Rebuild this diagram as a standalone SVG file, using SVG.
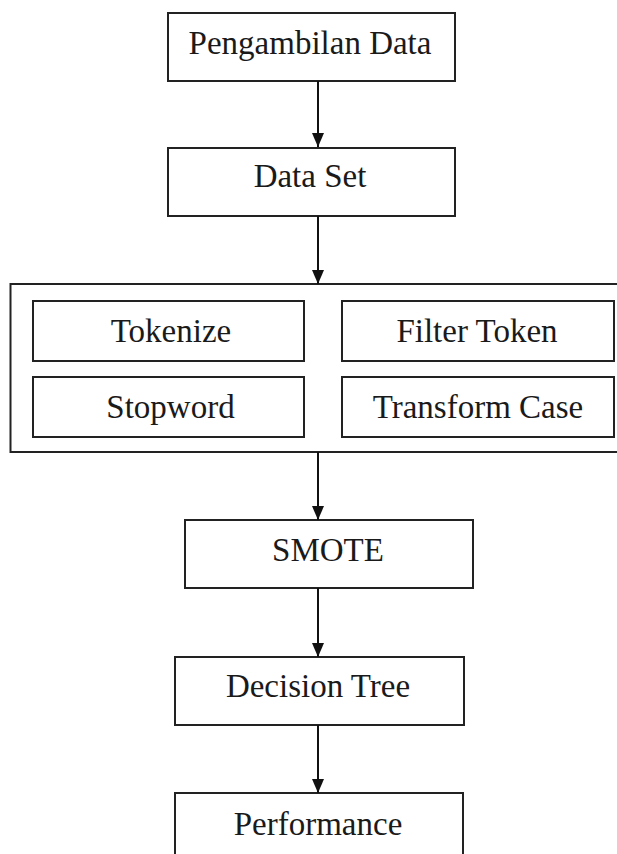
<svg xmlns="http://www.w3.org/2000/svg" width="617" height="854" viewBox="0 0 617 854">
<style>
.box{fill:#fff;stroke:#222;stroke-width:2}
.lbl{font-family:"Liberation Serif","Times New Roman",serif;font-size:33px;fill:#1a1a1a;text-anchor:middle}
.edge{stroke:#111;stroke-width:2;fill:none}
</style>
<defs>
<marker id="arr" markerUnits="userSpaceOnUse" markerWidth="14" markerHeight="12" viewBox="0 0 14 12" refX="14" refY="6" orient="auto">
<path d="M0,0 L14,6 L0,12 Z" fill="#111"/>
</marker>
</defs>
<rect width="617" height="854" fill="#fff"/>
<g id="n1"><rect class="box" x="168" y="13" width="287" height="68"/><text class="lbl" x="310" y="54">Pengambilan Data</text></g>
<g id="n2"><rect class="box" x="168" y="148" width="287" height="68"/><text class="lbl" x="310" y="187">Data Set</text></g>
<g id="preprocessing">
<rect class="box" x="10.5" y="284" width="612" height="168"/>
<g id="n3"><rect class="box" x="33" y="301" width="271" height="60"/><text class="lbl" x="171" y="342">Tokenize</text></g>
<g id="n4"><rect class="box" x="342" y="301" width="272" height="60"/><text class="lbl" x="477" y="342">Filter Token</text></g>
<g id="n5"><rect class="box" x="33" y="377" width="271" height="60"/><text class="lbl" x="170.5" y="418">Stopword</text></g>
<g id="n6"><rect class="box" x="342" y="377" width="272" height="60"/><text class="lbl" x="478" y="418">Transform Case</text></g>
</g>
<g id="n7"><rect class="box" x="185" y="520" width="288" height="68"/><text class="lbl" x="328" y="561">SMOTE</text></g>
<g id="n8"><rect class="box" x="175" y="657" width="289" height="68"/><text class="lbl" x="318" y="697">Decision Tree</text></g>
<g id="n9"><rect class="box" x="175" y="793" width="288" height="80"/><text class="lbl" x="318" y="835">Performance</text></g>
<g id="connectors">
<line class="edge" x1="318" y1="81" x2="318" y2="147" marker-end="url(#arr)"/>
<line class="edge" x1="318" y1="216" x2="318" y2="284" marker-end="url(#arr)"/>
<line class="edge" x1="318" y1="452" x2="318" y2="520" marker-end="url(#arr)"/>
<line class="edge" x1="318" y1="588" x2="318" y2="657" marker-end="url(#arr)"/>
<line class="edge" x1="318" y1="725" x2="318" y2="793" marker-end="url(#arr)"/>
</g>
</svg>
